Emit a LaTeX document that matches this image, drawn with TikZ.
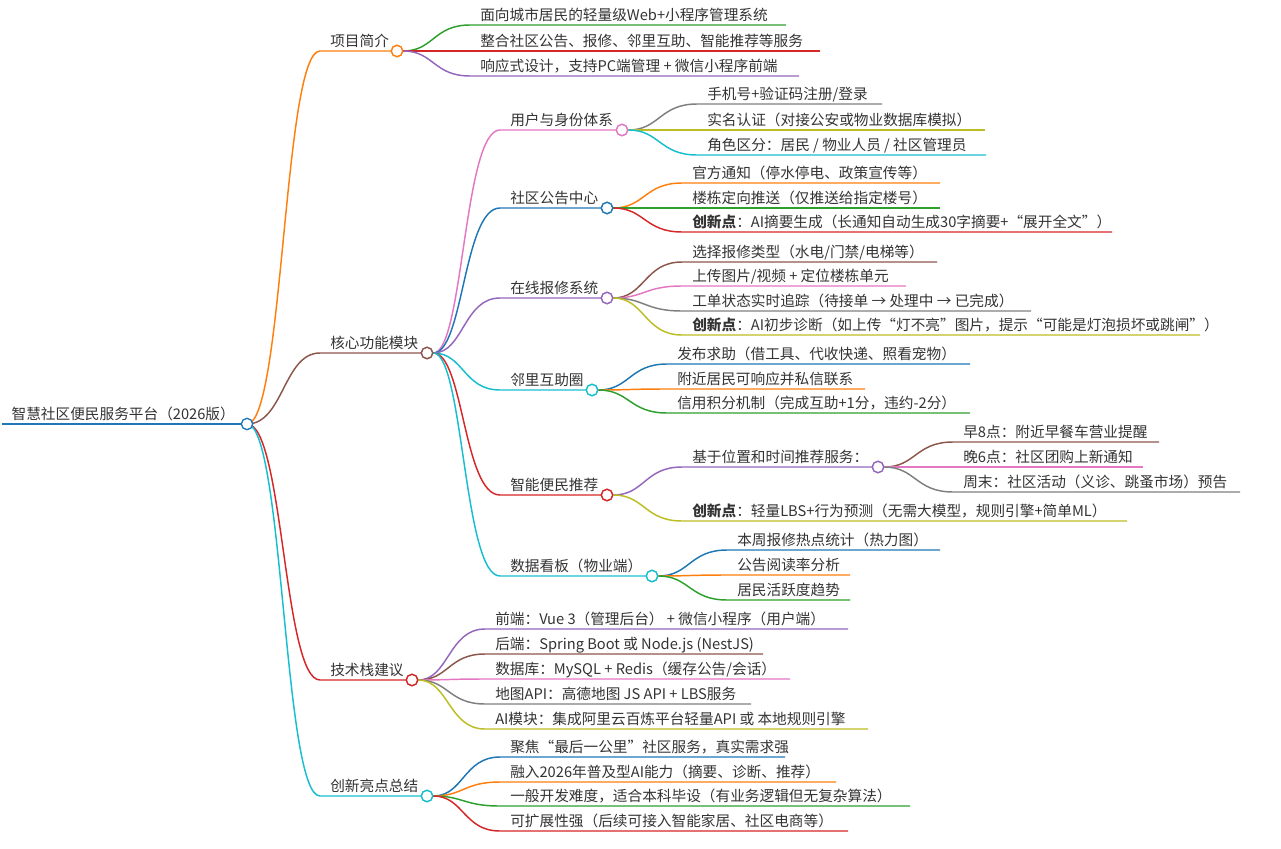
\documentclass[tikz,border=0pt]{standalone}
\usepackage{fontspec}
\setmainfont{Noto Sans CJK SC}
\usetikzlibrary{calc}
\definecolor{cOr}{HTML}{FF7F0E}\definecolor{cBr}{HTML}{8C564B}\definecolor{cRd}{HTML}{D62728}
\definecolor{cCy}{HTML}{17BECF}\definecolor{cPk}{HTML}{E377C2}\definecolor{cBl}{HTML}{1F77B4}
\definecolor{cPu}{HTML}{9467BD}\definecolor{cGr}{HTML}{2CA02C}\definecolor{cGy}{HTML}{7F7F7F}
\definecolor{cOl}{HTML}{BCBD22}\definecolor{txtc}{HTML}{333333}
\tikzset{
 txt/.style={anchor=base west,inner sep=0pt,text=txtc,font=\fontsize{11}{13}\selectfont},
 branch/.style={line width=1.1pt},
 knob/.style={circle,fill=white,line width=1pt,inner sep=0pt,minimum size=8.5pt}
}
% #1 name, #2 parent, #3 x1, #4 x2, #5 y, #6 colour, #7 text
\newcommand\mmitem[7]{%
 \coordinate (#1s) at (#3,#5); \coordinate (#1e) at (#4,#5);
 \coordinate (#1m) at ($(#2)!.5!(#1s)$);
 \draw[#6,branch] (#2) .. controls (#1m |- #2) and (#1m |- #1s) .. (#1s) -- (#1e);
 \node[txt] (#1) at ([xshift=7.5pt,yshift=3.5pt]#1s) {#7};
}
\newcommand\mmknob[2]{\node[knob,draw=#2] (#1k) at (#1e) {};}
\begin{document}
\begin{tikzpicture}[x=0.75pt,y=-0.75pt]
\useasboundingbox (0,0) rectangle (1281,849);
% root
\coordinate (rs) at (2,424); \coordinate (re) at (247,424);
\draw[cBl,branch] (rs) -- (re);
\node[txt] (root) at ([xshift=7pt,yshift=3.5pt]rs) {智慧社区便民服务平台（2026版）};
\coordinate (rk) at (re);
% level 1
\mmitem{a}{rk}{320}{397}{51}{cOr}{项目简介}
\mmitem{b}{rk}{320}{427}{353}{cBr}{核心功能模块}
\mmitem{c}{rk}{320}{412}{680}{cRd}{技术栈建议}
\mmitem{d}{rk}{320}{427}{796}{cCy}{创新亮点总结}
\mmknob{a}{cOr}\mmknob{b}{cBr}\mmknob{c}{cRd}\mmknob{d}{cCy}
% a
\mmitem{a1}{ak}{470}{786}{25}{cGr}{面向城市居民的轻量级Web+小程序管理系统}
\mmitem{a2}{ak}{470}{820}{51}{cRd}{整合社区公告、报修、邻里互助、智能推荐等服务}
\mmitem{a3}{ak}{470}{799}{76}{cPu}{响应式设计，支持PC端管理 + 微信小程序前端}
% b
\mmitem{b1}{bk}{500}{622}{130}{cPk}{用户与身份体系}
\mmitem{b2}{bk}{500}{607}{208}{cBl}{社区公告中心}
\mmitem{b3}{bk}{500}{607}{298}{cPu}{在线报修系统}
\mmitem{b4}{bk}{500}{592}{390}{cCy}{邻里互助圈}
\mmitem{b5}{bk}{500}{607}{495}{cRd}{智能便民推荐}
\mmitem{b6}{bk}{500}{652}{576}{cCy}{数据看板（物业端）}
\mmknob{b1}{cPk}\mmknob{b2}{cBl}\mmknob{b3}{cPu}\mmknob{b4}{cCy}\mmknob{b5}{cRd}\mmknob{b6}{cCy}
\mmitem{b11}{b1k}{697}{882}{104}{cGy}{手机号+验证码注册/登录}
\mmitem{b12}{b1k}{697}{985}{130}{cOl}{实名认证（对接公安或物业数据库模拟）}
\mmitem{b13}{b1k}{697}{986}{155}{cCy}{角色区分：居民 / 物业人员 / 社区管理员}
\mmitem{b21}{b2k}{682}{940}{183}{cOr}{官方通知（停水停电、政策宣传等）}
\mmitem{b22}{b2k}{682}{940}{208}{cGr}{楼栋定向推送（仅推送给指定楼号）}
\mmitem{b23}{b2k}{682}{1112}{232}{cRd}{\textbf{创新点}：AI摘要生成（长通知自动生成30字摘要+“展开全文”）}
\mmitem{b31}{b3k}{682}{937}{262}{cBr}{选择报修类型（水电/门禁/电梯等）}
\mmitem{b32}{b3k}{682}{906}{286}{cPk}{上传图片/视频 + 定位楼栋单元}
\mmitem{b33}{b3k}{682}{1031}{311}{cGy}{工单状态实时追踪（待接单 → 处理中 → 已完成）}
\mmitem{b34}{b3k}{682}{1200}{335}{cOl}{\textbf{创新点}：AI初步诊断（如上传“灯不亮”图片，提示“可能是灯泡损坏或跳闸”）}
\mmitem{b41}{b4k}{667}{970}{364}{cBl}{发布求助（借工具、代收快递、照看宠物）}
\mmitem{b42}{b4k}{667}{865}{389}{cOr}{附近居民可响应并私信联系}
\mmitem{b43}{b4k}{667}{970}{413}{cGr}{信用积分机制（完成互助+1分，违约-2分）}
\mmitem{b51}{b5k}{682}{878}{467}{cPu}{基于位置和时间推荐服务：}
\mmitem{b52}{b5k}{682}{1127}{521}{cOl}{\textbf{创新点}：轻量LBS+行为预测（无需大模型，规则引擎+简单ML）}
\mmknob{b51}{cPu}
\mmitem{b511}{b51k}{953}{1159}{442}{cBr}{早8点：附近早餐车营业提醒}
\mmitem{b512}{b51k}{953}{1143}{467}{cPk}{晚6点：社区团购上新通知}
\mmitem{b513}{b51k}{953}{1240}{492}{cGy}{周末：社区活动（义诊、跳蚤市场）预告}
\mmitem{b61}{b6k}{727}{940}{550}{cBl}{本周报修热点统计（热力图）}
\mmitem{b62}{b6k}{727}{850}{575}{cOr}{公告阅读率分析}
\mmitem{b63}{b6k}{727}{850}{600}{cGr}{居民活跃度趋势}
% c
\mmitem{c1}{ck}{485}{848}{629}{cPu}{前端：Vue 3（管理后台） + 微信小程序（用户端）}
\mmitem{c2}{ck}{485}{763}{654}{cBr}{后端：Spring Boot 或 Node.js (NestJS)}
\mmitem{c3}{ck}{485}{790}{679}{cPk}{数据库：MySQL + Redis（缓存公告/会话）}
\mmitem{c4}{ck}{485}{751}{704}{cGy}{地图API：高德地图 JS API + LBS服务}
\mmitem{c5}{ck}{485}{868}{729}{cOl}{AI模块：集成阿里云百炼平台轻量API 或 本地规则引擎}
% d
\mmitem{d1}{dk}{500}{785}{757}{cBl}{聚焦“最后一公里”社区服务，真实需求强}
\mmitem{d2}{dk}{500}{836}{782}{cOr}{融入2026年普及型AI能力（摘要、诊断、推荐）}
\mmitem{d3}{dk}{500}{910}{806}{cGr}{一般开发难度，适合本科毕设（有业务逻辑但无复杂算法）}
\mmitem{d4}{dk}{500}{848}{831}{cRd}{可扩展性强（后续可接入智能家居、社区电商等）}
% redraw knobs on top
\mmknob{a}{cOr}\mmknob{b}{cBr}\mmknob{c}{cRd}\mmknob{d}{cCy}
\mmknob{b1}{cPk}\mmknob{b2}{cBl}\mmknob{b3}{cPu}\mmknob{b4}{cCy}\mmknob{b5}{cRd}\mmknob{b6}{cCy}\mmknob{b51}{cPu}
\node[knob,draw=cBl] at (rk) {};
\end{tikzpicture}
\end{document}
